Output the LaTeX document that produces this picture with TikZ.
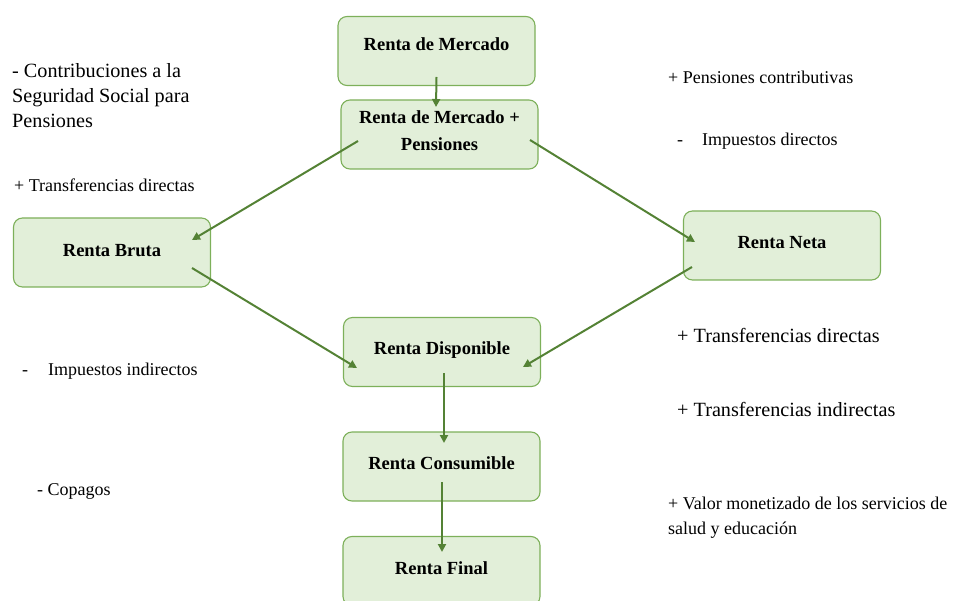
\documentclass[tikz,border=0pt]{standalone}
\usepackage{fontspec}
\setmainfont{Liberation Serif}
\usetikzlibrary{arrows.meta}
\definecolor{boxfill}{HTML}{E2EFD9}
\definecolor{boxline}{HTML}{7DB05A}
\definecolor{arrowgreen}{HTML}{548235}
\tikzstyle{rentabox}=[draw=boxline,fill=boxfill,line width=1.1pt,rounded corners=9pt,minimum width=197pt,minimum height=69pt,inner sep=0pt,align=center,font=\fontsize{18.5}{27}\selectfont\bfseries]
\tikzstyle{edge} = [draw,arrowgreen,line width=2pt,-{Triangle[length=8pt,width=8pt]}]
\tikzstyle{note} = [anchor=west,inner sep=0pt,align=left,font=\fontsize{18}{25}\selectfont]
\tikzstyle{bignote} = [anchor=west,inner sep=0pt,align=left,font=\fontsize{20.2}{25}\selectfont]

\begin{document}
\begin{tikzpicture}[x=1pt,y=-1pt]
    \clip (0,0) rectangle (958,601);

    \foreach \pos/\name/\txt/\dep in {{(436.5,51)/mercado/{Renta de Mercado}/14pt}, {(439.5,134.5)/mercpens/{Renta de Mercado +\\Pensiones}/7pt}, {(112,252.5)/bruta/{Renta Bruta}/4pt}, {(782,245.5)/neta/{Renta Neta}/7pt}, {(442,352)/disponible/{Renta Disponible}/7pt}, {(441.5,466.5)/consumible/{Renta Consumible}/6pt}, {(441.5,571)/final/{Renta Final}/6pt}}
        \node[rentabox,text depth=\dep] (\name) at \pos {\txt};

    \node[bignote] (contrib) at (12,95.5) {- Contribuciones a la\\Seguridad Social para\\Pensiones};
    \node[note] (transfizq) at (14,185) {+ Transferencias directas};
    \node[note] (impind) at (22,371) {-\hspace{20pt}Impuestos indirectos};
    \node[note] (copagos) at (37,491) {- Copagos};
    \node[note] (pensc) at (668,77) {+ Pensiones contributivas};
    \node[note] (impdir) at (677,141) {-\hspace{19pt}Impuestos directos};
    \node[bignote] (transfder) at (677,335) {+ Transferencias directas};
    \node[bignote] (transfind) at (677,409) {+ Transferencias indirectas};
    \node[note] (valor) at (668,517.5) {+ Valor monetizado de los servicios de\\salud y educación};

    \path[edge] ([shift={(0,26)}]mercado.center) -- ([shift={(-3.5,-27.5)}]mercpens.center);
    \path[edge] ([shift={(-81.5,6.5)}]mercpens.center) -- ([shift={(80,-12.5)}]bruta.center);
    \path[edge] ([shift={(90.5,5.5)}]mercpens.center) -- ([shift={(-87,-3.5)}]neta.center);
    \path[edge] ([shift={(80,15.5)}]bruta.center) -- ([shift={(-85,16)}]disponible.center);
    \path[edge] ([shift={(-90,21.5)}]neta.center) -- ([shift={(81,15)}]disponible.center);
    \path[edge] ([shift={(2,21)}]disponible.center) -- ([shift={(2.5,-23.5)}]consumible.center);
    \path[edge] ([shift={(0.5,15.5)}]consumible.center) -- ([shift={(0.5,-19)}]final.center);

\end{tikzpicture}
\end{document}
